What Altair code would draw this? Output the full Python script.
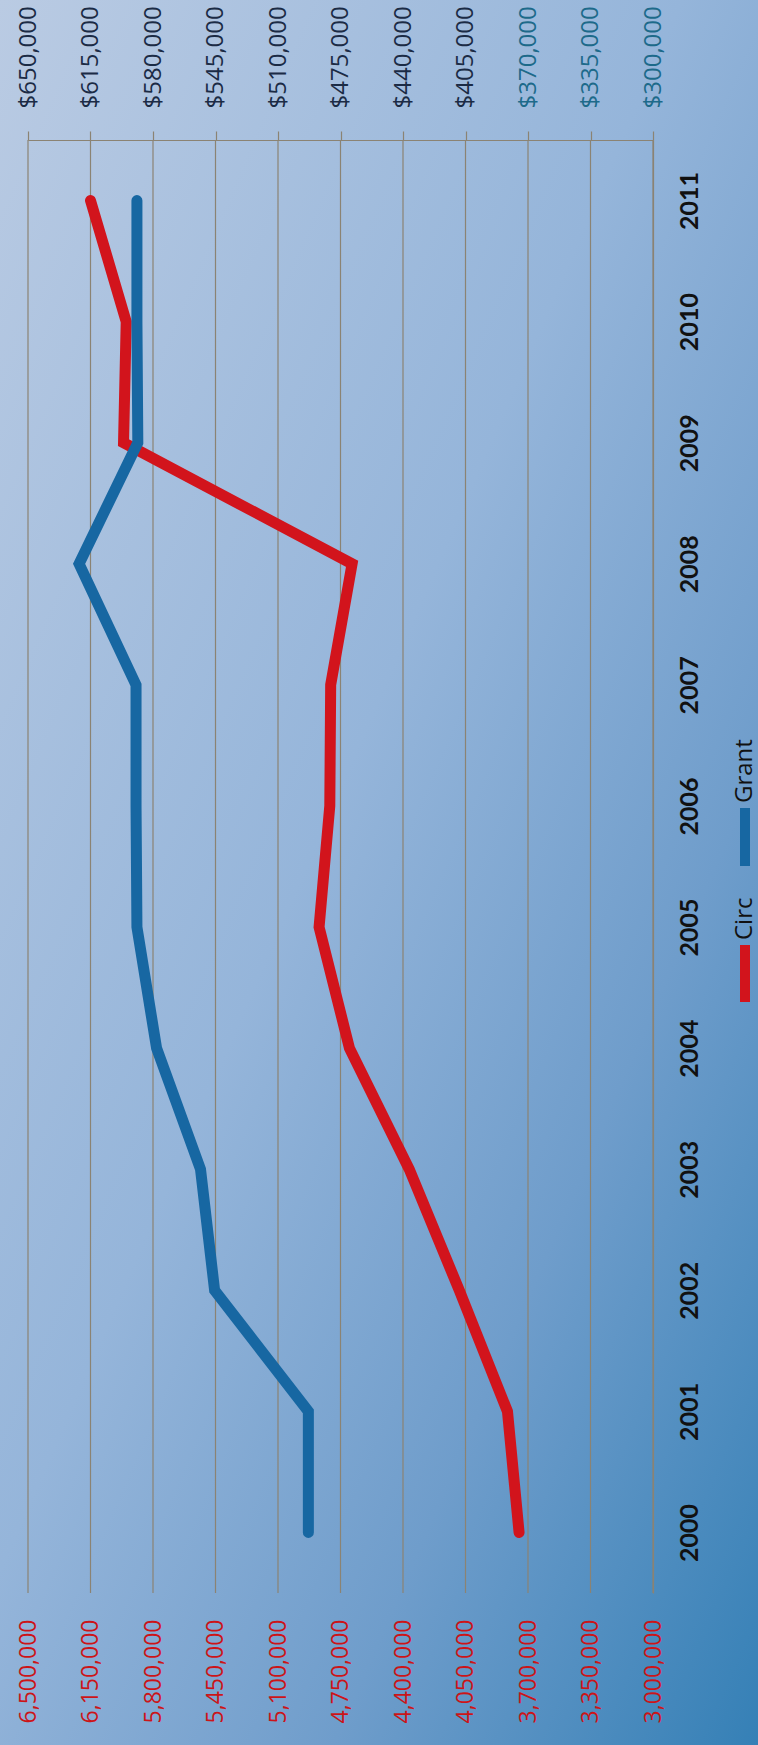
import altair as alt
import pandas as pd

# ---- data ----
years = [2000, 2001, 2002, 2003, 2004, 2005, 2006, 2007, 2008, 2009, 2010, 2011]
circ = [3750000, 3815000, 4085000, 4365000, 4700000, 4870000, 4810000, 4805000, 4685000, 5965000, 5950000, 6150000]
grant = [493000, 493000, 545500, 553400, 578000, 589000, 589500, 589500, 621400, 588500, 589000, 589000]
circ_ticks = [3000000, 3350000, 3700000, 4050000, 4400000, 4750000, 5100000, 5450000, 5800000, 6150000, 6500000]
grant_ticks = [300000, 335000, 370000, 405000, 440000, 475000, 510000, 545000, 580000, 615000, 650000]
series = ["Circ", "Grant"]
series_colors = ["#d2141c", "#1767a2"]

df = pd.DataFrame({"year": years, "Circ": circ, "Grant": grant})
grid_df = pd.DataFrame({"tick": circ_ticks})

W, H = 625, 1453
PAD = {"left": 28, "top": 140, "right": 105, "bottom": 152}
GRID = "#8b8373"
circ_scale = alt.Scale(domain=[3000000, 6500000], reverse=True, nice=False, zero=False)
grant_scale = alt.Scale(domain=[300000, 650000], reverse=True, nice=False, zero=False)

bg = alt.Chart(pd.DataFrame({"k": [0]})).mark_rect(
    fill=alt.Gradient(
        gradient="linear",
        stops=[
            alt.GradientStop(offset=0, color="#bacbe3"),
            alt.GradientStop(offset=0.45, color="#95b5da"),
            alt.GradientStop(offset=0.72, color="#6f9dcb"),
            alt.GradientStop(offset=1, color="#3580b6"),
        ],
        x1=0, y1=0, x2=1, y2=1,
    )
).encode(
    x=alt.value(-PAD["left"]), x2=alt.value(W + PAD["right"]),
    y=alt.value(-PAD["top"]), y2=alt.value(H + PAD["bottom"]),
)

gridlines = alt.Chart(grid_df).mark_rule(color=GRID, strokeWidth=1.2).encode(
    x=alt.X("tick:Q", scale=circ_scale, axis=None)
)

year_axis = alt.Axis(
    orient="right", title=None, labelAngle=270, labelAlign="center", labelBaseline="top",
    labelFont="Lato", labelFontWeight="bold", labelFontSize=25,
    labelColor="#111111", labelPadding=24, ticks=False, tickSize=0,
    domain=True, domainColor=GRID, domainWidth=1.2, grid=False, zindex=1,
)


def y_enc():
    return alt.Y("year:O", sort="descending", scale=alt.Scale(type="point", padding=0.5), axis=year_axis)


circ_line = alt.Chart(df).mark_line(
    color=series_colors[0], strokeWidth=11, strokeCap="round", strokeJoin="miter"
).encode(
    x=alt.X(
        "Circ:Q", scale=circ_scale,
        axis=alt.Axis(
            orient="bottom", title=None, values=circ_ticks, format=",.0f",
            labelAngle=270, labelAlign="right", labelBaseline="middle",
            labelFont="Open Sans", labelFontSize=23, labelColor="#cc1418",
            labelPadding=26, labelOverlap=False, ticks=False, tickSize=0, domain=False,
            grid=False, zindex=1,
        ),
    ),
    y=y_enc(),
    order=alt.Order("year:Q"),
)

grant_line = alt.Chart(df).mark_line(
    color=series_colors[1], strokeWidth=11, strokeCap="round", strokeJoin="miter"
).encode(
    x=alt.X(
        "Grant:Q", scale=grant_scale,
        axis=alt.Axis(
            orient="top", title=None, values=grant_ticks, format="$,.0f",
            labelAngle=270, labelAlign="left", labelBaseline="middle",
            labelFont="Open Sans", labelFontSize=24,
            labelColor=alt.condition("datum.value <= 370000", alt.value("#1d6a8a"), alt.value("#1b2b45")),
            labelPadding=23, labelOverlap=False, ticks=True, tickSize=9, tickColor=GRID, tickWidth=1.2,
            domain=True, domainColor=GRID, domainWidth=1.2, grid=False, zindex=1,
        ),
    ),
    y=y_enc(),
    order=alt.Order("year:Q"),
)

# ---- rotated legend (swatch below text, reading bottom to top) ----
LEG_X = 717
leg_text_y = {"Circ": 800, "Grant": 663}
leg_sw_y = {"Circ": (805, 862), "Grant": (668, 726)}
legend_layers = []
for name, col in zip(series, series_colors):
    ldf = pd.DataFrame({"series": [name]})
    legend_layers.append(
        alt.Chart(ldf).mark_rule(color=col, strokeWidth=10, strokeCap="butt").encode(
            x=alt.value(LEG_X), y=alt.value(leg_sw_y[name][0]), y2=alt.value(leg_sw_y[name][1])
        )
    )
    legend_layers.append(
        alt.Chart(ldf).mark_text(
            angle=270, align="left", baseline="middle", font="Open Sans", fontSize=24, color="#111111"
        ).encode(x=alt.value(LEG_X), y=alt.value(leg_text_y[name]), text="series:N")
    )

chart = alt.layer(bg, gridlines, circ_line, grant_line, *legend_layers).resolve_scale(
    x="independent"
).properties(
    width=W, height=H, padding=PAD, autosize=alt.AutoSizeParams(type="none"),
    background="#8aaed6",
).configure_view(stroke=None)

chart.save("out.html", embed_options={"renderer": "svg", "actions": False})
